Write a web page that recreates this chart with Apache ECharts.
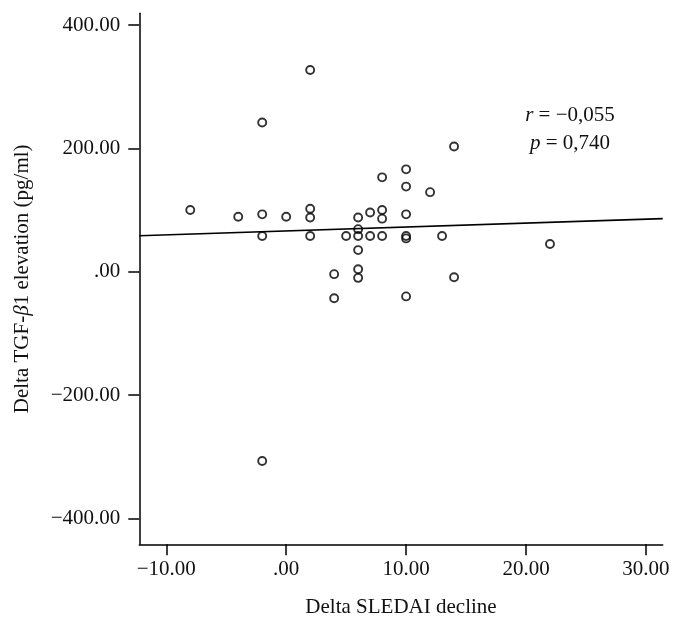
<!DOCTYPE html>
<html>
<head>
<meta charset="utf-8">
<script src="https://cdn.jsdelivr.net/npm/echarts@6/dist/echarts.min.js"></script>
<style>
  html, body { margin: 0; padding: 0; background: #fff; }
  #chart { width: 684px; height: 625px; }
</style>
</head>
<body>
<div id="chart"></div>
<script>
// values
const sledaiDecline = [-8, -4, -2, -2, -2, -2, 0, 2, 2, 2, 2, 4, 4, 5, 6, 6, 6, 6, 6, 6, 7, 7, 8, 8, 8, 8, 10, 10, 10, 10, 10, 10, 12, 13, 14, 14, 22];
const tgfElevation = [100, 89, 242, 93, 58, -307, 89, 327, 102, 88, 58, -4, -43, 58, 88, 69, 58, 35, 4, -10, 96, 58, 153, 100, 86, 58, 166, 138, 93, 58, 54, -40, 129, 58, 203, -9, 45];
const fitLineX = [-12.25, 31.4];
const fitLineY = [58.4, 86.1];
const xTicks = [-10, 0, 10, 20, 30];
const yTicks = [-400, -200, 0, 200, 400];
const statLines = ["{i|r} = \u22120,055", "{i|p} = 0,740"];

const FONT = "Liberation Serif";
const FS = 21;
const fmt = (v) => {
  if (v === 0) return ".00";
  return (v < 0 ? "\u2212" : "") + Math.abs(v).toFixed(2);
};

const chart = echarts.init(document.getElementById("chart"));

const axisCommon = {
  type: "value",
  splitLine: { show: false },
  axisLine: { show: true, onZero: false, lineStyle: { color: "#000", width: 1.5 } },
  nameLocation: "middle",
  nameTextStyle: { fontFamily: FONT, fontSize: FS, color: "#111" },
};

chart.setOption({
  animation: false,
  backgroundColor: "#fff",
  grid: { left: 139.3, right: 21.3, top: 13.3, bottom: 80.7 },
  xAxis: {
    ...axisCommon,
    min: -12.25,
    max: 31.4,
    name: "Delta SLEDAI decline",
    nameGap: 53,
    axisTick: { show: true, length: 11, customValues: xTicks, lineStyle: { color: "#000", width: 1.5 } },
    axisLabel: {
      customValues: xTicks,
      formatter: fmt,
      margin: 15,
      fontFamily: FONT,
      fontSize: FS,
      color: "#111",
    },
  },
  yAxis: {
    ...axisCommon,
    min: -442,
    max: 419,
    name: "Delta TGF-{i|\u03b2}1 elevation (pg/ml)",
    nameGap: 106,
    nameTextStyle: {
      fontFamily: FONT,
      fontSize: FS,
      color: "#111",
      rich: { i: { fontFamily: FONT, fontSize: FS, fontStyle: "italic", color: "#111" } },
    },
    axisTick: { show: true, length: 11, customValues: yTicks, lineStyle: { color: "#000", width: 1.5 } },
    axisLabel: {
      customValues: yTicks,
      formatter: fmt,
      margin: 19,
      fontFamily: FONT,
      fontSize: FS,
      color: "#111",
    },
  },
  graphic: statLines.map((txt, i) => ({
    type: "text",
    x: 570,
    y: 115 + i * 28,
    style: {
      text: txt,
      fontFamily: FONT,
      fontSize: FS,
      fill: "#111",
      align: "center",
      verticalAlign: "middle",
      rich: { i: { fontFamily: FONT, fontSize: FS, fontStyle: "italic", fill: "#111" } },
    },
  })),
  series: [
    {
      type: "line",
      data: fitLineX.map((x, i) => [x, fitLineY[i]]),
      showSymbol: false,
      lineStyle: { color: "#000", width: 1.6 },
      z: 2,
    },
    {
      type: "scatter",
      data: sledaiDecline.map((x, i) => [x, tgfElevation[i]]),
      symbol: "circle",
      symbolSize: 8,
      itemStyle: { color: "rgba(255,255,255,0)", borderColor: "#000", borderWidth: 1.9 },
      z: 3,
    },
  ],
});
</script>
</body>
</html>
